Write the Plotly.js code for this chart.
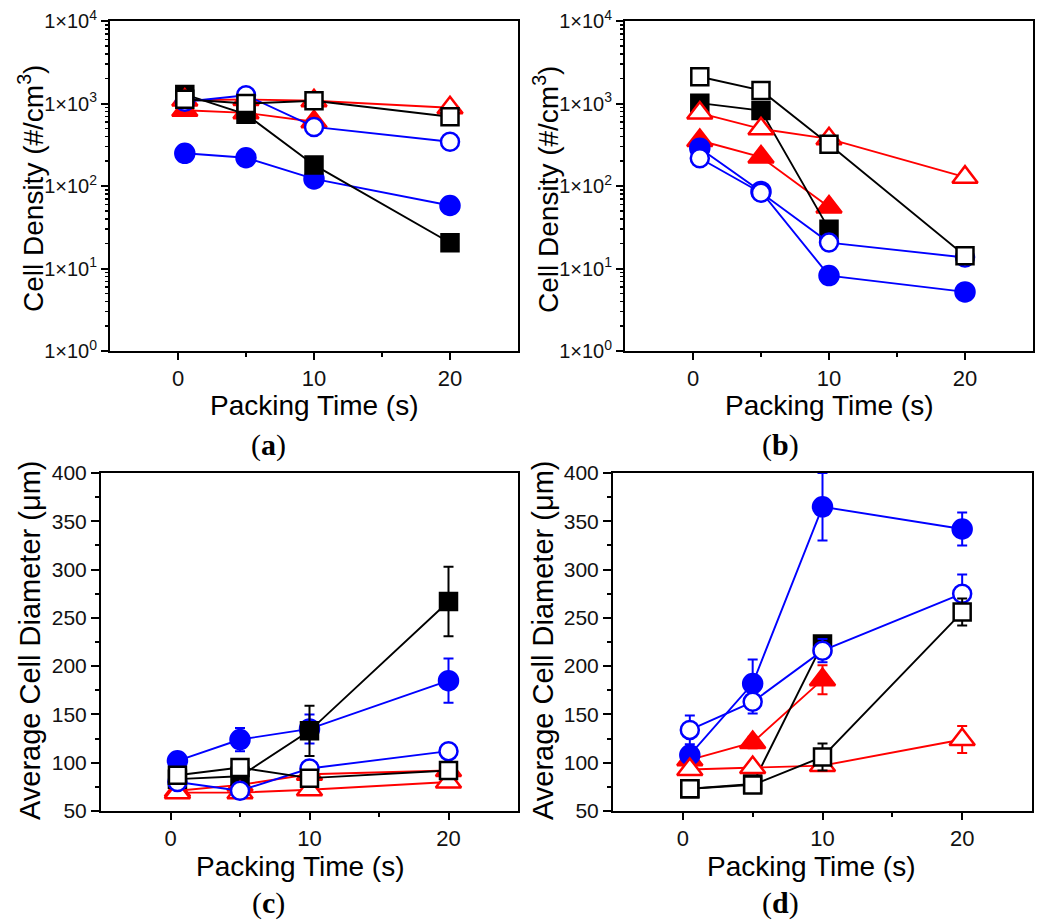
<!DOCTYPE html>
<html>
<head>
<meta charset="utf-8">
<script src="https://cdn.plot.ly/plotly-3.0.1.min.js"></script>
<style>
  html, body { margin: 0; padding: 0; background: #fff; }
  #chart { width: 1041px; height: 920px; }
</style>
</head>
<body>
<div id="chart"></div>
<script>
// ---------- DATA ----------
const timesFull = [0.5, 5, 10, 20];
const timesShort = [0.5, 5, 10];

// (a) Cell density
const aFilledTriangle = [830, 770, 600];
const aFilledCircle   = [249, 220, 122, 58];
const aFilledSquare   = [1290, 740, 180, 20.5];
const aOpenTriangle   = [1100, 1120, 1080, 890];
const aOpenCircle     = [1050, 1260, 520, 344];
const aOpenSquare     = [1125, 1000, 1080, 690];

// (b) Cell density
const bFilledTriangle = [356, 224, 55.5];
const bFilledCircle   = [287, 86, 8.2, 5.2];
const bFilledSquare   = [1010, 820, 30];
const bOpenTriangle   = [766, 493, 373, 128];
const bOpenCircle     = [217, 83, 20.6, 13.6];
const bOpenSquare     = [2110, 1440, 320, 14.3];

// (c) Average cell diameter (µm) and error
const cFilledTriangle = [71, 77, 88, 92];   const cFilledTriangleErr = [6, 6, 4, 6];
const cFilledCircle   = [102, 124, 135, 185]; const cFilledCircleErr = [6, 12, 15, 23];
const cFilledSquare   = [83, 86, 133, 267]; const cFilledSquareErr = [4, 5, 26, 36];
const cOpenTriangle   = [69, 69, 72, 80];   const cOpenTriangleErr = [4, 5, 5, 5];
const cOpenCircle     = [80, 71, 94, 112];  const cOpenCircleErr = [5, 5, 8, 6];
const cOpenSquare     = [87, 95, 84, 92];   const cOpenSquareErr = [5, 6, 6, 5];

// (d) Average cell diameter (µm) and error
const dFilledTriangle = [103, 121, 186];    const dFilledTriangleErr = [6, 6, 15];
const dFilledCircle   = [108, 182, 365, 342]; const dFilledCircleErr = [8, 25, 35, 17];
const dFilledSquare   = [73, 78, 223];      const dFilledSquareErr = [5, 5, 8];
const dOpenTriangle   = [93, 95, 97, 124];  const dOpenTriangleErr = [5, 5, 5, 14];
const dOpenCircle     = [134, 163, 216, 275]; const dOpenCircleErr = [15, 12, 12, 20];
const dOpenSquare     = [73, 77, 106, 256]; const dOpenSquareErr = [6, 5, 14, 14];

const logTickVals = [1, 10, 100, 1000, 10000];
const logTickText = ['1×10<sup>0</sup>', '1×10<sup>1</sup>', '1×10<sup>2</sup>', '1×10<sup>3</sup>', '1×10<sup>4</sup>'];

// ---------- STYLE ----------
const RED = '#ff0000', BLUE = '#0000ff', BLACK = '#000000';
const styles = {
  filledTriangle: {color: RED,   symbol: 'triangle-up', fill: RED,   size: 22},
  filledCircle:   {color: BLUE,  symbol: 'circle',      fill: BLUE,  size: 19},
  filledSquare:   {color: BLACK, symbol: 'square',      fill: BLACK, size: 17},
  openTriangle:   {color: RED,   symbol: 'triangle-up', fill: '#ffffff', size: 22},
  openCircle:     {color: BLUE,  symbol: 'circle',      fill: '#ffffff', size: 18},
  openSquare:     {color: BLACK, symbol: 'square',      fill: '#ffffff', size: 17}
};

function tr(name, x, y, key, axis, err) {
  const s = styles[key];
  const t = {
    type: 'scatter', mode: 'lines+markers', name: name,
    x: x, y: y, xaxis: 'x' + axis, yaxis: 'y' + axis,
    line: {color: s.color, width: 1.9},
    marker: {symbol: s.symbol, size: s.size, color: s.fill, line: {color: s.color, width: 2.5}},
    showlegend: false, cliponaxis: false
  };
  if (err) {
    t.error_y = {type: 'data', array: err, visible: true, color: s.color, thickness: 2, width: 5};
  }
  return t;
}

const data = [
  tr('Filled triangle', timesShort, aFilledTriangle, 'filledTriangle', ''),
  tr('Filled circle',   timesFull,  aFilledCircle,   'filledCircle', ''),
  tr('Filled square',   timesFull,  aFilledSquare,   'filledSquare', ''),
  tr('Open triangle',   timesFull,  aOpenTriangle,   'openTriangle', ''),
  tr('Open circle',     timesFull,  aOpenCircle,     'openCircle', ''),
  tr('Open square',     timesFull,  aOpenSquare,     'openSquare', ''),

  tr('Filled triangle', timesShort, bFilledTriangle, 'filledTriangle', '2'),
  tr('Filled circle',   timesFull,  bFilledCircle,   'filledCircle', '2'),
  tr('Filled square',   timesShort, bFilledSquare,   'filledSquare', '2'),
  tr('Open triangle',   timesFull,  bOpenTriangle,   'openTriangle', '2'),
  tr('Open circle',     timesFull,  bOpenCircle,     'openCircle', '2'),
  tr('Open square',     timesFull,  bOpenSquare,     'openSquare', '2'),

  tr('Filled triangle', timesFull, cFilledTriangle, 'filledTriangle', '3', cFilledTriangleErr),
  tr('Filled circle',   timesFull, cFilledCircle,   'filledCircle', '3', cFilledCircleErr),
  tr('Filled square',   timesFull, cFilledSquare,   'filledSquare', '3', cFilledSquareErr),
  tr('Open triangle',   timesFull, cOpenTriangle,   'openTriangle', '3', cOpenTriangleErr),
  tr('Open circle',     timesFull, cOpenCircle,     'openCircle', '3', cOpenCircleErr),
  tr('Open square',     timesFull, cOpenSquare,     'openSquare', '3', cOpenSquareErr),

  tr('Filled triangle', timesShort, dFilledTriangle, 'filledTriangle', '4', dFilledTriangleErr),
  tr('Filled circle',   timesFull,  dFilledCircle,   'filledCircle', '4', dFilledCircleErr),
  tr('Filled square',   timesShort, dFilledSquare,   'filledSquare', '4', dFilledSquareErr),
  tr('Open triangle',   timesFull,  dOpenTriangle,   'openTriangle', '4', dOpenTriangleErr),
  tr('Open circle',     timesFull,  dOpenCircle,     'openCircle', '4', dOpenCircleErr),
  tr('Open square',     timesFull,  dOpenSquare,     'openSquare', '4', dOpenSquareErr)
];

const W = 1041, H = 920;
const fx = p => p / W;
const fy = p => 1 - p / H;

const FONT = 'Liberation Sans, Arial, sans-serif';
const SERIF = 'Liberation Serif, Times New Roman, serif';

function xAxis(domain, anchor) {
  return {
    domain: domain, anchor: anchor, range: [-5, 25], tickmode: 'array', tickvals: [0, 10, 20],
    ticks: 'outside', ticklen: 7, tickwidth: 2, tickcolor: BLACK,
    showline: true, linewidth: 2, linecolor: BLACK, mirror: true,
    showgrid: false, zeroline: false,
    tickfont: {family: FONT, size: 22, color: '#111'},
    minor: {tickmode: 'array', tickvals: [5, 15], ticks: 'outside', ticklen: 4, tickwidth: 2, tickcolor: BLACK},
    fixedrange: true
  };
}
function yLogAxis(domain, anchor) {
  return {
    domain: domain, anchor: anchor, type: 'log', range: [0, 4],
    tickmode: 'array', tickvals: logTickVals, ticktext: logTickText,
    ticks: 'outside', ticklen: 7, tickwidth: 2, tickcolor: BLACK,
    showline: true, linewidth: 2, linecolor: BLACK, mirror: true,
    showgrid: false, zeroline: false,
    tickfont: {family: FONT, size: 20, color: '#111'},
    minor: {
      tickmode: 'array',
      tickvals: [2,3,4,5,6,7,8,9,20,30,40,50,60,70,80,90,200,300,400,500,600,700,800,900,2000,3000,4000,5000,6000,7000,8000,9000],
      ticks: 'outside', ticklen: 3.5, tickwidth: 1.5, tickcolor: BLACK
    },
    fixedrange: true
  };
}
function yLinAxis(domain, anchor) {
  return {
    domain: domain, anchor: anchor, range: [50, 400], tickmode: 'linear', tick0: 50, dtick: 50,
    ticks: 'outside', ticklen: 8, tickwidth: 2, tickcolor: BLACK,
    showline: true, linewidth: 2, linecolor: BLACK, mirror: true,
    showgrid: false, zeroline: false,
    tickfont: {family: FONT, size: 21, color: '#111'},
    minor: {tickmode: 'linear', tick0: 75, dtick: 50, ticks: 'outside', ticklen: 4, tickwidth: 2, tickcolor: BLACK},
    fixedrange: true
  };
}

const annFont = {family: FONT, size: 28, color: '#000'};
function ann(text, px, py, opts) {
  return Object.assign({
    text: text, x: fx(px), y: fy(py), xref: 'paper', yref: 'paper',
    showarrow: false, xanchor: 'center', yanchor: 'middle', font: annFont
  }, opts || {});
}
const yTitleFont = {family: FONT, size: 28, color: '#000'};
const yTitleFontC = {family: FONT, size: 29, color: '#000'};
const labelFont = {family: SERIF, size: 30, color: '#000'};

const layout = {
  width: W, height: H,
  margin: {l: 0, r: 0, t: 0, b: 0},
  paper_bgcolor: '#ffffff', plot_bgcolor: '#ffffff',
  showlegend: false,
  xaxis:  xAxis([fx(110), fx(518)], 'y'),
  yaxis:  yLogAxis([fy(351), fy(21)], 'x'),
  xaxis2: xAxis([fx(625), fx(1033)], 'y2'),
  yaxis2: yLogAxis([fy(351), fy(21)], 'x2'),
  xaxis3: xAxis([fx(101), fx(518)], 'y3'),
  yaxis3: yLinAxis([fy(811), fy(473)], 'x3'),
  xaxis4: xAxis([fx(613), fx(1032)], 'y4'),
  yaxis4: yLinAxis([fy(811), fy(473)], 'x4'),
  annotations: [
    ann('Cell Density (#/cm<sup>3</sup>)', 31, 189, {textangle: -90, font: yTitleFont}),
    ann('Cell Density (#/cm<sup>3</sup>)', 546, 190, {textangle: -90, font: yTitleFont}),
    ann('Average Cell Diameter (μm)', 30, 641, {textangle: -90, font: yTitleFontC}),
    ann('Average Cell Diameter (μm)', 543, 641, {textangle: -90, font: yTitleFontC}),
    ann('Packing Time (s)', 314, 405),
    ann('Packing Time (s)', 829, 405),
    ann('Packing Time (s)', 300, 866),
    ann('Packing Time (s)', 811, 866),
    ann('(<b>a</b>)', 268, 445, {font: labelFont}),
    ann('(<b>b</b>)', 780, 445, {font: labelFont}),
    ann('(<b>c</b>)', 268, 903, {font: labelFont}),
    ann('(<b>d</b>)', 780, 903, {font: labelFont})
  ]
};

Plotly.newPlot('chart', data, layout, {displayModeBar: false, staticPlot: true});
</script>
</body>
</html>
